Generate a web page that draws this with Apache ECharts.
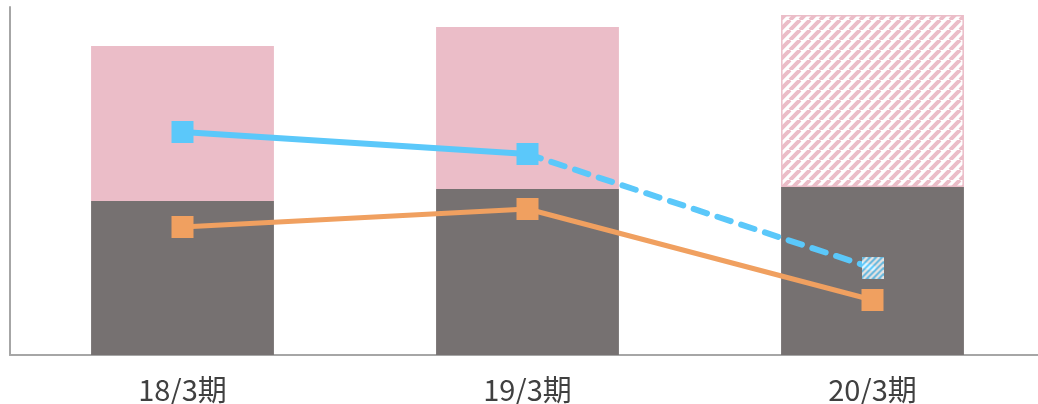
<!DOCTYPE html>
<html>
<head>
<meta charset="utf-8">
<script src="https://cdn.jsdelivr.net/npm/echarts@6/dist/echarts.min.js"></script>
<style>
  html, body { margin: 0; padding: 0; background: #fff; }
  #chart { width: 1038px; height: 404px; }
</style>
</head>
<body>
<div id="chart"></div>
<script>
const categories = ['18/3期', '19/3期', '20/3期'];
const baseValues = [154, 166, 168];
const topValues = [155, 162, 172];
const blueValues = [223, 201, 87];
const orangeValues = [128, 146, 55];

// 斜線パターン
function makeHatch(bg, fg, size, lw, w, h) {
    const c = document.createElement('canvas');
    c.width = w || size;
    c.height = h || size;
    const ctx = c.getContext('2d');
    ctx.fillStyle = bg;
    ctx.fillRect(0, 0, c.width, c.height);
    ctx.strokeStyle = fg;
    ctx.lineWidth = lw;
    ctx.beginPath();
    for (let x = -c.height; x <= c.width + size; x += size) {
        ctx.moveTo(x, c.height);
        ctx.lineTo(x + c.height, 0);
    }
    ctx.stroke();
    return c;
}

const pink = '#ebbdc8';
const grey = '#767171';
const blue = '#5bc8fa';
const orange = '#f0a060';

const pinkHatch = { image: makeHatch('#ffffff', pink, 10, 4), repeat: 'repeat' };
const blueMarker = 'image://' + makeHatch(blue, '#ffffff', 6, 2.4, 22, 22).toDataURL();

let chart = echarts.init(document.getElementById('chart'));

chart.setOption({
    animation: false,
    grid: { left: 10, width: 1035, top: 7, bottom: 49, outerBoundsMode: 'none' },
    xAxis: {
        type: 'category',
        data: categories,
        axisLine: { lineStyle: { color: '#a6a6a6', width: 2 } },
        axisTick: { show: false },
        axisLabel: {
            color: '#404040',
            fontSize: 29,
            margin: 20,
            fontFamily: '"Noto Sans CJK JP", sans-serif'
        }
    },
    yAxis: {
        type: 'value',
        min: 0,
        max: 348,
        axisLine: { show: true, lineStyle: { color: '#a6a6a6', width: 2 } },
        axisTick: { show: false },
        axisLabel: { show: false },
        splitLine: { show: false }
    },
    series: [
        {
            type: 'bar',
            stack: 'total',
            barWidth: '53%',
            itemStyle: { color: grey },
            data: baseValues
        },
        {
            type: 'bar',
            stack: 'total',
            itemStyle: { color: pink },
            data: topValues.map((v, i) => i === 2
                ? { value: v, itemStyle: { color: pinkHatch, borderColor: pink, borderWidth: 1.5 } }
                : v)
        },
        {
            type: 'line',
            symbol: 'rect',
            symbolSize: 22,
            lineStyle: { color: blue, width: 6 },
            itemStyle: { color: blue },
            data: [blueValues[0], blueValues[1], '-'],
            z: 4
        },
        {
            type: 'line',
            symbol: 'none',
            lineStyle: { color: blue, width: 6, type: [14, 11], cap: 'round' },
            data: ['-', blueValues[1], blueValues[2]],
            z: 3
        },
        {
            type: 'scatter',
            symbol: blueMarker,
            symbolSize: 22,
            data: [[2, blueValues[2]]],
            z: 5
        },
        {
            type: 'line',
            symbol: 'rect',
            symbolSize: 22,
            lineStyle: { color: orange, width: 5 },
            itemStyle: { color: orange },
            data: orangeValues,
            z: 4
        }
    ]
});
</script>
</body>
</html>
